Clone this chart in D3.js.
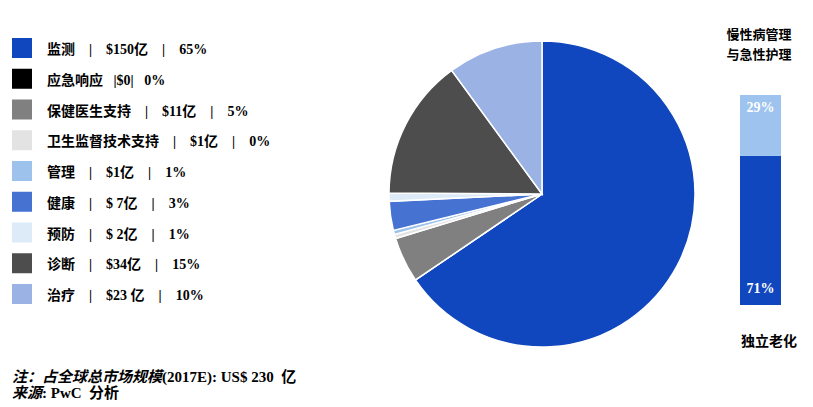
<!DOCTYPE html>
<meta charset="utf-8">
<html>
<head>
  <style>
    body { margin: 0; background: #fff; }
    svg { display: block; }
    text { font-family: "Liberation Serif", "Noto Sans CJK SC", serif; font-weight: bold; fill: #000; }
  </style>
</head>
<body>
<svg width="813" height="407"></svg>
<script src="https://d3js.org/d3.v7.min.js"></script>
<script>
  // segments of the market, in legend / clockwise order
  const names = ["监测", "应急响应", "保健医生支持", "卫生监督技术支持", "管理", "健康", "预防", "诊断", "治疗"];
  const values = [150, 0, 11, 1, 1, 7, 2, 34, 23];          // 亿美元
  const valueLabels = ["$150亿", "$0", "$11亿", "$1亿", "$1亿", "$ 7亿", "$ 2亿", "$34亿", "$23 亿"];
  const pctLabels = ["65%", "0%", "5%", "0%", "1%", "3%", "1%", "15%", "10%"];
  const colors = ["#1046be", "#000000", "#808080", "#e3e3e3", "#9dc3ec", "#4672d2", "#ddebf8", "#4d4d4d", "#9bb2e4"];

  // stacked bar on the right
  const barParts = ["独立老化", "慢性病管理与急性护理"];
  const barValues = [71, 29];
  const barColors = ["#1046be", "#9dc3ee"];

  const svg = d3.select("svg");

  // legend
  const rowY = d3.scalePoint().domain(names).range([38, 284]);
  const legend = svg.append("g");
  const rows = legend.selectAll("g").data(names).enter().append("g")
    .attr("transform", d => `translate(12,${rowY(d)})`);
  rows.append("rect")
    .attr("width", 20).attr("height", 20)
    .attr("fill", (d, i) => colors[i]);
  rows.append("text")
    .attr("x", 35).attr("y", 16)
    .attr("font-size", 14)
    .attr("xml:space", "preserve")
    .style("white-space", "pre")
    .text((d, i) => i === 1
      ? `${d}   |${valueLabels[i]}|   ${pctLabels[i]}`
      : `${d}    |    ${valueLabels[i]}    |    ${pctLabels[i]}`);

  // pie
  const cx = 542, cy = 194, r = 153;
  const pie = d3.pie().sort(null).value(d => d)(values);
  const arc = d3.arc().innerRadius(0).outerRadius(r);
  svg.append("g")
    .attr("transform", `translate(${cx},${cy})`)
    .selectAll("path").data(pie).enter().append("path")
    .attr("d", arc)
    .attr("fill", (d, i) => colors[i])
    .attr("stroke", "#fff")
    .attr("stroke-width", 1.5);

  // stacked bar
  const barX = 740, barW = 41;
  const y = d3.scaleLinear().domain([0, d3.sum(barValues)]).range([305, 95]);
  let acc = 0;
  const stacks = barValues.map(v => { const s = { y0: acc, y1: acc + v, v }; acc += v; return s; });
  svg.append("g").selectAll("rect").data(stacks).enter().append("rect")
    .attr("x", barX).attr("width", barW)
    .attr("y", d => y(d.y1))
    .attr("height", d => y(d.y0) - y(d.y1))
    .attr("fill", (d, i) => barColors[i]);
  svg.append("text").attr("x", barX + barW / 2).attr("y", y(stacks[0].y0) - 12)
    .attr("text-anchor", "middle").attr("font-size", 14).style("fill", "#fff")
    .text(barValues[0] + "%");
  svg.append("text").attr("x", barX + barW / 2).attr("y", y(stacks[1].y1) + 17)
    .attr("text-anchor", "middle").attr("font-size", 14).style("fill", "#fff")
    .text(barValues[1] + "%");

  svg.append("text").attr("x", 759).attr("y", 39).attr("text-anchor", "middle")
    .attr("font-size", 13).text(barParts[1].slice(0, 5));
  svg.append("text").attr("x", 759).attr("y", 59).attr("text-anchor", "middle")
    .attr("font-size", 13).text(barParts[1].slice(5));
  svg.append("text").attr("x", 769).attr("y", 346).attr("text-anchor", "middle")
    .attr("font-size", 14).text(barParts[0]);

  // notes
  svg.append("text").attr("x", 12).attr("y", 382).attr("font-size", 15)
    .attr("xml:space", "preserve").style("white-space", "pre")
    .html('<tspan font-style="italic">注：占全球总市场规模</tspan>(2017E): US$ 230  亿');
  svg.append("text").attr("x", 12).attr("y", 398).attr("font-size", 15)
    .attr("xml:space", "preserve").style("white-space", "pre")
    .html('<tspan font-style="italic">来源</tspan>: PwC  分析');
</script>
</body>
</html>
